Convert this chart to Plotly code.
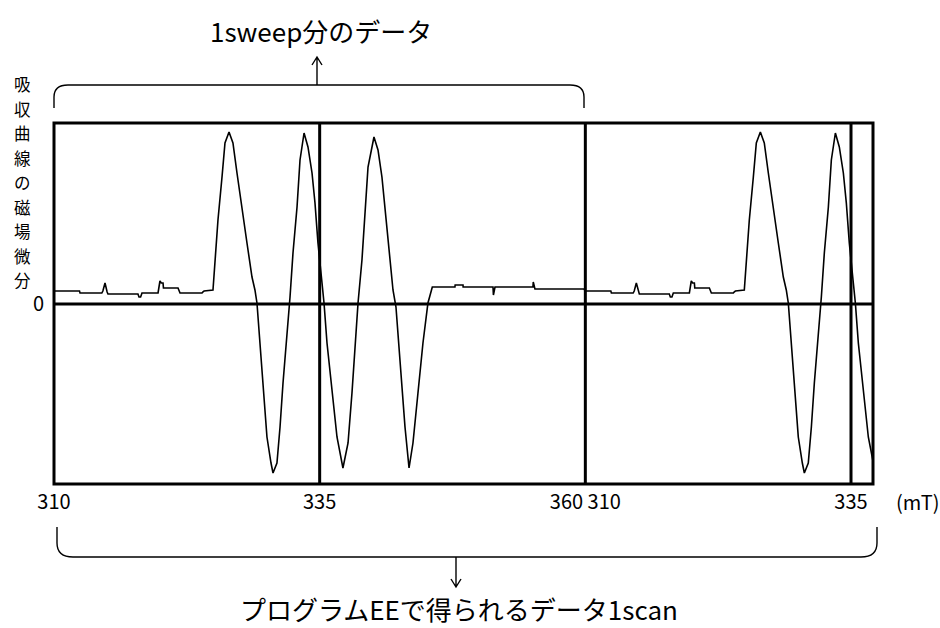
import plotly.graph_objects as go

# One field sweep, 310-360 mT: field (mT) and field-derivative of the absorption (arb. units)
sweep_field = [
    310.00, 312.40, 312.45, 314.50, 314.60, 314.80, 315.00, 315.08, 317.90, 318.00,
    318.15, 318.28, 319.79, 319.97, 320.10, 320.26, 320.30, 321.67, 321.86, 323.93,
    324.00, 324.12, 324.96,
    325.15, 325.43, 325.81, 326.09, 326.47, 326.84, 327.22, 327.69, 328.16, 328.63,
    328.91, 329.10, 329.38, 329.67, 330.04, 330.42, 330.61, 330.98, 331.27, 331.55,
    331.93, 332.21, 332.49, 332.87, 333.15, 333.53, 333.90, 334.28, 334.56, 334.84,
    335.22, 335.41, 335.69, 336.16, 336.63, 337.19, 337.67, 338.04, 338.32, 338.61,
    338.98, 339.27, 339.55, 340.11, 340.49, 340.86, 341.24, 341.62, 341.90, 342.18,
    342.56, 343.03, 343.41, 343.78, 344.25, 344.72, 345.19, 345.57, 345.60,
    347.73, 347.75, 348.49, 348.50, 351.31, 351.35, 351.50, 355.07, 355.10, 355.26,
    359.87,
]
sweep_signal = [
    13, 13, 11, 11, 13, 21, 12, 10, 10, 7,
    7, 11, 11, 23, 21, 21, 16, 16, 11, 11,
    12, 13, 14,
    44, 84, 127, 161, 172, 161, 131, 94, 61, 27,
    14, 1, -39, -89, -133, -159, -169, -159, -123, -79,
    -33, 7, 51, 97, 144, 171, 157, 131, 101, 61,
    21, 1, -39, -89, -133, -164, -139, -89, -39, 1,
    44, 94, 137, 167, 154, 127, 84, 44, 14, -3,
    -56, -123, -164, -139, -89, -39, 1, 14, 17,
    17, 19, 19, 17, 17, 9, 17, 17, 22, 15,
    15,
]

# A scan covers one full sweep plus the start of the next one
sweep_span = 50
scan_field = sweep_field + [f + sweep_span for f in sweep_field]
scan_signal = sweep_signal + sweep_signal

tick_vals = [310, 335, 360, 385]
tick_text = ["310", "335", "360 310", "335"]
zero_val = [0]
zero_text = ["0"]
ylabel_chars = list("吸収曲線の磁場微分")
top_label = "1sweep分のデータ"
bottom_label = "プログラムEEで得られるデータ1scan"
unit_label = "(mT)"

# ---- page geometry (pixels) ----
W, H = 940, 628
L, R, T, B = 54, 873, 123, 484
x_range = [310, 387.07]
y_range = [-180, 181]
FONT = "Noto Sans CJK JP"


def px(xp):
    return (xp - L) / (R - L)


def py(yp):
    return (B - yp) / (B - T)


def path(*cmds):
    out = []
    for c in cmds:
        if isinstance(c, str):
            out.append(c)
        else:
            out.append(f"{px(c[0]):.5f},{py(c[1]):.5f}")
    return " ".join(out)


fig = go.Figure()
fig.add_trace(go.Scatter(
    x=scan_field, y=scan_signal, mode="lines",
    line=dict(color="black", width=1.6),
    hoverinfo="skip", showlegend=False,
))

shapes = []
# frame
shapes.append(dict(type="rect", xref="paper", yref="paper", x0=0, x1=1, y0=0, y1=1,
                   line=dict(color="black", width=3)))
# sweep markers
for v in [335, 360, 385]:
    shapes.append(dict(type="line", xref="x", yref="paper", x0=v, x1=v, y0=0, y1=1,
                       line=dict(color="black", width=3)))
# zero level
shapes.append(dict(type="line", xref="paper", yref="y", x0=0, x1=1, y0=0, y1=0,
                   line=dict(color="black", width=3)))

thin = dict(color="black", width=1.4)
# brace over one sweep and its arrow
shapes.append(dict(type="path", xref="paper", yref="paper", line=thin,
                   path=path("M", (54, 108), "L", (54, 97), "Q", (54, 85), (68, 85),
                             "L", (570, 85), "Q", (584, 85), (584, 97), "L", (584, 108))))
shapes.append(dict(type="path", xref="paper", yref="paper", line=thin,
                   path=path("M", (317, 85), "L", (317, 57),
                             "M", (312, 65), "L", (317, 57), "L", (322, 65))))
# brace under the whole scan and its arrow
shapes.append(dict(type="path", xref="paper", yref="paper", line=thin,
                   path=path("M", (57, 527), "L", (57, 543), "Q", (57, 557), (73, 557),
                             "L", (861, 557), "Q", (877, 557), (877, 543), "L", (877, 527))))
shapes.append(dict(type="path", xref="paper", yref="paper", line=thin,
                   path=path("M", (456, 557), "L", (456, 587),
                             "M", (451, 579), "L", (456, 587), "L", (461, 579))))

annotations = [
    dict(text=top_label, xref="paper", yref="paper", x=px(321), y=py(30),
         showarrow=False, font=dict(family=FONT, size=26, color="black"),
         xanchor="center", yanchor="middle"),
    dict(text=bottom_label, xref="paper", yref="paper", x=px(459), y=py(608),
         showarrow=False, font=dict(family=FONT, size=26, color="black"),
         xanchor="center", yanchor="middle", borderpad=0),
    dict(text=unit_label, xref="paper", yref="paper", x=px(894), y=py(501),
         showarrow=False, font=dict(family=FONT, size=20, color="black"),
         xanchor="left", yanchor="middle"),
]
# vertical axis title, one character per row
title_top, title_step = 84, 24.5
for i, ch in enumerate(ylabel_chars):
    annotations.append(dict(text=ch, xref="paper", yref="paper",
                            x=px(22), y=py(title_top + i * title_step),
                            showarrow=False, borderpad=0,
                            font=dict(family=FONT, size=16.5, color="black"),
                            xanchor="center", yanchor="middle"))

fig.update_layout(
    width=W, height=H,
    margin=dict(l=L, r=W - R, t=T, b=H - B, pad=0),
    paper_bgcolor="white", plot_bgcolor="white",
    showlegend=False,
    shapes=shapes, annotations=annotations,
    xaxis=dict(range=x_range, tickvals=tick_vals, ticktext=tick_text,
               showgrid=False, zeroline=False, showline=False, ticks="",
               tickfont=dict(family=FONT, size=20, color="black"),
               ticklabelstandoff=4, fixedrange=True),
    yaxis=dict(range=y_range, tickvals=zero_val, ticktext=zero_text,
               showgrid=False, zeroline=False, showline=False, ticks="",
               tickfont=dict(family=FONT, size=20, color="black"),
               ticklabelstandoff=9, fixedrange=True),
)

fig.write_html("out.html", config=dict(displayModeBar=False))
